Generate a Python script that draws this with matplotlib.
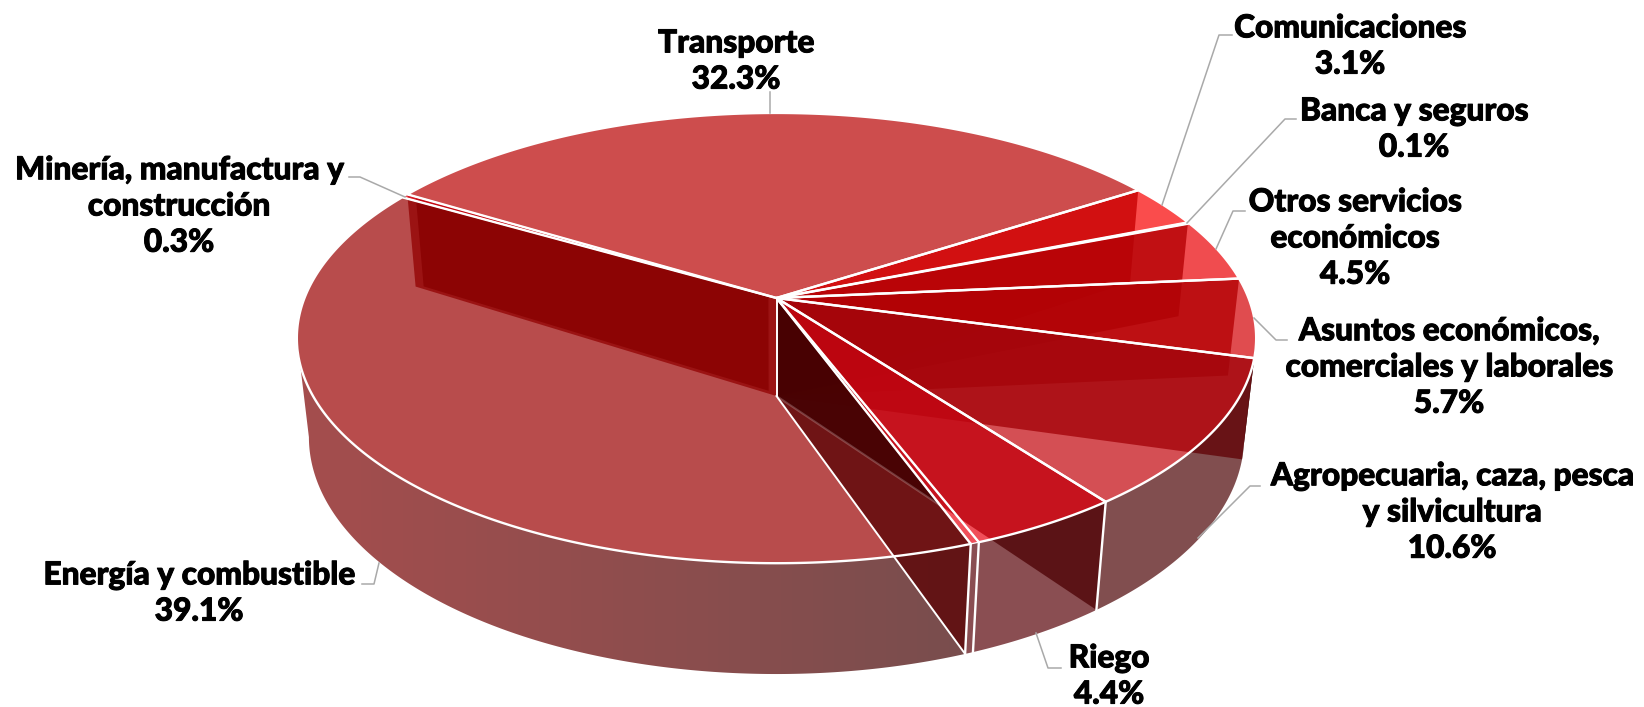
import numpy as np
import matplotlib
matplotlib.use("Agg")
import matplotlib.pyplot as plt
import matplotlib.patheffects as pe
from matplotlib.patches import Polygon

# clockwise from the top of the pie, the unnamed thin slice sits next to Riego
names = ["Transporte", "Comunicaciones", "Banca y seguros", "Otros servicios\neconómicos",
         "Asuntos económicos,\ncomerciales y laborales", "Agropecuaria, caza, pesca\ny silvicultura",
         "Riego", "", "Energía y combustible", "Minería, manufactura y\nconstrucción"]
values = [32.3, 3.1, 0.1, 4.5, 5.7, 10.6, 4.4, 0.25, 39.1, 0.3]

top_colors = ["#b80202", "#f80000", "#f80000", "#ea0005", "#d40005", "#c2050c",
              "#ea0513", "#ea0513", "#9a0000", "#ea0513"]
side_colors = ["#000000", "#000000", "#000000", "#000000", "#000000", "#4c0305",
               "#580308", "#580308", None, "#000000"]
wall_colors = ["#5a0508", "#3c0505", "#3c0505", "#6a0505", "#620508", "#500508",
               "#5a0508", "#5a0508", "#5a0508", "#7e0202"]

label_xy = [(736, 60), (1350, 45), (1414, 128), (1355, 237), (1449, 366), (1452, 511),
            (1109, 675), None, (199, 592), (179, 205)]
leaders = [[(770, 92), (770, 113)],
           [(1162, 205), (1219, 35), (1232, 35)],
           [(1187, 223), (1285, 119), (1296, 119)],
           [(1216, 249), (1233, 211), (1245, 211)],
           [(1254, 318), (1276, 340), (1287, 340)],
           [(1198, 538), (1250, 486), (1260, 486)],
           [(1036, 633), (1048, 668), (1061, 668)],
           [(405, 197), (360, 177), (349, 177)],
           [(379, 563), (374, 584), (362, 584)]]

START = 148.7
CX, CY = 776.5, 298
A, B, K = 472, 218, 0.178
DROP, M = 100.5, 0.025
ALPHA = 0.7


def project(theta, r=1.0, z=0.0):
    t = np.radians(theta)
    u = r * np.cos(t)
    v = r * np.sin(t)
    w = 1 + K * v + M * z
    return np.column_stack([CX + A * u / w, CY + (-B * v + DROP * z) / w])


def arc(t0, t1, z=0.0):
    n = max(2, int(abs(t1 - t0) * 2))
    return project(np.linspace(t0, t1, n), 1.0, z)


def wall(t, r0=0.0, r1=1.0, z1=1.0):
    t = np.array([t, t])
    top = project(t, np.array([r0, r1]), 0.0)
    low = project(t, np.array([r1, r0]), z1)
    return np.vstack([top, low])


def rgba(color, alpha=ALPHA):
    return matplotlib.colors.to_rgba(color, alpha)


fig = plt.figure(figsize=(16.44, 7.07), dpi=100)
ax = fig.add_axes([0, 0, 1, 1])

edges = START - np.cumsum([0] + values) / sum(values) * 360
VIS0, VIS1 = -10.0, -170.0

# outer walls, only the part facing us
for i in range(len(values) - 1):
    a = min(edges[i], VIS0)
    b = max(edges[i + 1], VIS1)
    if a <= b:
        continue
    pts = np.vstack([arc(a, b), arc(b, a, 1.0)])
    if side_colors[i] is None:
        g = np.linspace(0, 1, 256)[None, :]
        img = np.zeros((1, 256, 4))
        img[..., 0] = (126 + (62 - 126) * g) / 255
        img[..., 3] = ALPHA
        im = ax.imshow(img, extent=[pts[:, 0].min(), pts[:, 0].max(), 700, 300], aspect="auto", zorder=1)
        im.set_clip_path(Polygon(pts, transform=ax.transData))
    else:
        ax.add_patch(Polygon(pts, fc=rgba(side_colors[i]), ec="none", zorder=1))

# inner walls, seen through the tops
for i in [0, 1, 3, 4, 5]:
    ax.add_patch(Polygon(wall(edges[i + 1]), fc=rgba(wall_colors[i], 0.8), ec="none", zorder=2))
ax.add_patch(Polygon(wall(edges[-1]), fc=rgba("#7e0202", 0.75), ec="none", zorder=2))
ax.add_patch(Polygon(wall(edges[-1], 0.02, 0.975, 0.97), fc=rgba("#600202", 0.8), ec="none", zorder=2))

# tops
for i in range(len(values)):
    pts = np.vstack([project(np.array([edges[i]]), 0.0), arc(edges[i], edges[i + 1])])
    ax.add_patch(Polygon(pts, fc=rgba(top_colors[i]), ec="none", zorder=3))

# the wall under Energia comes over its top, with the Riego wall doubled inside it
ax.add_patch(Polygon(wall(edges[8]), fc=rgba("#5d0608", 0.8), ec="none", zorder=4))
inner = Polygon(wall(edges[6]), fc=rgba("#320000", 0.55), ec="none", zorder=4.5)
ax.add_patch(inner)
inner.set_clip_path(Polygon(wall(edges[8]), transform=ax.transData))
low = project(np.array([edges[6], edges[6]]), np.array([0.0, 1.0]), 1.0)
glow = ax.plot(low[:, 0], low[:, 1], color="white", alpha=0.22, lw=1.5, zorder=4.6)[0]
glow.set_clip_path(Polygon(wall(edges[8]), transform=ax.transData))

# white lines of the front faces
for t in [edges[6], edges[7], edges[8]]:
    p = np.vstack([project(np.array([t]), 1.0, 0.0), project(np.array([t]), 1.0, 1.0)])
    ax.plot(p[:, 0], p[:, 1], color="white", lw=1.7, zorder=5)
low = project(np.array([edges[8], edges[8]]), np.array([0.0, 1.0]), 1.0)
ax.plot(low[:, 0], low[:, 1], color="white", lw=1.4, zorder=5)
p = np.vstack([project(np.array([0.0]), 0.0, 0.0), project(np.array([0.0]), 0.0, 1.0)])
ax.plot(p[:, 0], p[:, 1], color="white", lw=1.4, zorder=5)
for i in range(len(values)):
    pts = np.vstack([project(np.array([edges[i]]), 0.0), arc(edges[i], edges[i + 1])])
    # thin slices would fill up with white otherwise
    width = 0.9 if values[i] < 0.5 else 1.7
    ax.add_patch(Polygon(pts, fc="none", ec="white", lw=width, joinstyle="round", zorder=5))

for line in leaders:
    line = np.array(line)
    ax.plot(line[:, 0], line[:, 1], color="#a9a9a9", lw=1.1, zorder=6)

for i, (name, val) in enumerate(zip(names, values)):
    if name == "":
        continue
    ax.text(label_xy[i][0], label_xy[i][1] + 1, f"{name}\n{val:.1f}%", ha="center", va="center", family="Lato",
            weight="black", fontsize=22.8, linespacing=1.3, color="black", zorder=7,
            path_effects=[pe.withStroke(linewidth=0.7, foreground="black")])

ax.set_xlim(0, 1644)
ax.set_ylim(707, 0)
ax.axis("off")
fig.savefig("out.png", dpi=100)
